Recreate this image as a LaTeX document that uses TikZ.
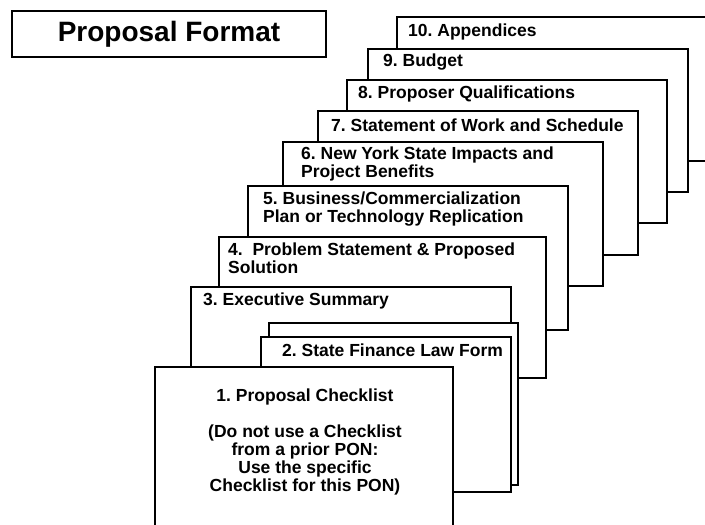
\documentclass[tikz,border=0pt]{standalone}
\usepackage{fontspec}
\setmainfont{Liberation Sans}
\frenchspacing
\tikzset{
  card/.style={draw,line width=2pt,fill=white,inner sep=0pt},
  cardtext/.style={anchor=west,inner sep=0pt,align=left,font=\bfseries\fontsize{17.5}{18}\selectfont},
}
\begin{document}
\begin{tikzpicture}[x=1pt,y=-1pt]
        \path[use as bounding box,clip] (0,0) rectangle (705,525);
        \fill[white] (0,0) rectangle (705,525);

        \node (title) at (169,34) [card,line width=2.5pt,minimum width=314pt,minimum height=46pt,font=\bfseries\fontsize{28}{30}\selectfont] {Proposal Format};

        % stack, back to front
        \node (c10) at (558.5,89) [card,minimum width=323pt,minimum height=144pt] {};
        \node (t10) at (408,32) [cardtext] {10. Appendices};

        \node (c9) at (528,120.5) [card,minimum width=320pt,minimum height=143pt] {};
        \node (t9) at (383,62) [cardtext] {9. Budget};

        \node (c8) at (507,151.5) [card,minimum width=320pt,minimum height=143pt] {};
        \node (t8) at (358,94) [cardtext] {8. Proposer Qualifications};

        \node (c7) at (478,183) [card,minimum width=320pt,minimum height=144pt] {};
        \node (t7) at (331,125) [cardtext] {7. Statement of Work and Schedule};

        \node (c6) at (443,214) [card,minimum width=320pt,minimum height=144pt] {};
        \node (t6) at (301,164) [cardtext] {6. New York State Impacts and\\Project Benefits};

        \node (c5) at (408,258) [card,minimum width=320pt,minimum height=144pt] {};
        \node (t5) at (263,209) [cardtext] {5. Business/Commercialization\\Plan or Technology Replication};

        \node (c4) at (382.5,307.5) [card,minimum width=327pt,minimum height=141pt] {};
        \node (t4) at (228,258.5) [cardtext] {4.\ \ Problem Statement \& Proposed\\Solution};

        \node (c3) at (351,358.5) [card,minimum width=320pt,minimum height=143pt] {};
        \node (t3) at (203,301) [cardtext] {3. Executive Summary};

        \node (c2b) at (393.5,404) [card,minimum width=249pt,minimum height=162pt] {};
        \node (c2) at (386,414.5) [card,minimum width=250pt,minimum height=155pt] {};
        \node (t2) at (282,350) [cardtext] {2. State Finance Law Form};

        \node (c1) at (304,453.5) [card,minimum width=298pt,minimum height=173pt] {};
        \node (t1) at (305,441.5) [cardtext,anchor=center,align=center] {1. Proposal Checklist\\[18pt](Do not use a Checklist\\from a prior PON:\\Use the specific\\Checklist for this PON)};
    \end{tikzpicture}
\end{document}
